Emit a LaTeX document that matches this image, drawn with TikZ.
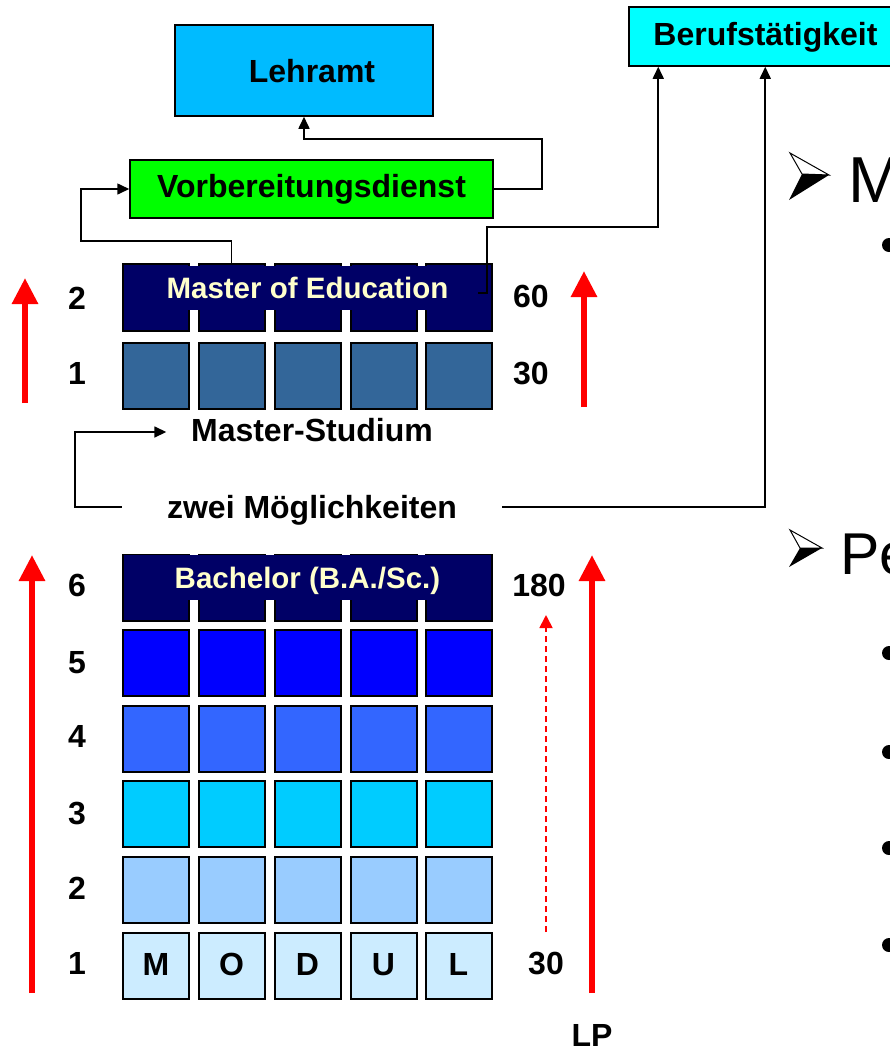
\documentclass[tikz,border=0pt]{standalone}
\usepackage{fontspec}
\setmainfont{Liberation Sans}
\usetikzlibrary{arrows.meta}
\definecolor{lehrcol}{RGB}{0,187,255}
\definecolor{berufcol}{RGB}{0,255,255}
\definecolor{vorbcol}{RGB}{0,255,0}
\definecolor{navy}{RGB}{0,0,102}
\definecolor{mrowone}{RGB}{51,102,153}
\definecolor{bfive}{RGB}{0,0,255}
\definecolor{bfour}{RGB}{51,102,255}
\definecolor{bthree}{RGB}{0,204,255}
\definecolor{btwo}{RGB}{153,204,255}
\definecolor{bone}{RGB}{204,236,255}
\definecolor{bantext}{RGB}{255,255,204}
\begin{document}
\begin{tikzpicture}[x=1pt,y=-1pt,
  txt/.style={font=\fontsize{32}{38}\selectfont\bfseries, inner sep=0pt, text height=23pt, text depth=0pt},
  bantxt/.style={font=\fontsize{29.5}{34}\selectfont\bfseries, text=bantext, inner sep=0pt, text height=21pt, text depth=0pt},
  cell/.style={draw=black, line width=2pt, minimum width=66pt, minimum height=66pt, inner sep=0pt},
  box/.style={draw=black, line width=1.5pt, inner sep=0pt},
  conn/.style={line width=1.6pt},
  arr/.style={conn, -{Triangle[length=12pt,width=11pt]}},
  redarr/.style={draw=red, line width=6pt, -{Triangle[length=26pt,width=25pt]}},
  reddash/.style={draw=red, line width=1.8pt, dash pattern=on 6pt off 4pt, -{Triangle[length=13pt,width=13pt]}},
  bigtxt/.style={anchor=base west, inner sep=0pt}
]
\useasboundingbox (0,0) rectangle (890,1050);

% top boxes
\node[box, txt, fill=lehrcol, minimum width=258pt, minimum height=91pt] (lehr) at (304,70.5) {\hspace*{16pt}Lehramt};
\node[box, txt, fill=berufcol, minimum width=273pt, minimum height=59pt, text depth=5pt] (beruf) at (765.5,36.5) {Berufstätigkeit};
\node[box, txt, fill=vorbcol, minimum width=363pt, minimum height=58pt, text depth=6pt] (vorb) at (311.5,189) {Vorbereitungsdienst};

% master grid
\foreach \c [count=\i] in {156,231.5,307.5,383.5,458.5} {
  \node[cell, fill=navy, minimum height=67pt] (mb\i) at (\c,297.5) {};
  \node[cell, fill=mrowone] (ma\i) at (\c,376) {};
}
\node[fill=navy, minimum width=367pt, minimum height=44pt, bantxt] (mban) at (307.5,288) {Master of Education};

% bachelor grid
\foreach \r/\y/\col in {6/587.5/navy,5/663/bfive,4/739/bfour,3/814/bthree,2/889.5/btwo} {
  \foreach \c [count=\i] in {156,231.5,307.5,383.5,458.5} {
    \node[cell, fill=\col] (b\r c\i) at (\c,\y) {};
  }
}
\foreach \c/\l [count=\i] in {156/M,231.5/O,307.5/D,383.5/U,458.5/L} {
  \node[cell, fill=bone, txt, text depth=4pt] (b1c\i) at (\c,965.5) {\l};
}
\node[fill=navy, minimum width=367pt, minimum height=45pt, bantxt] (bban) at (307.5,577.5) {Bachelor (B.A./Sc.)};

% labels
\node[txt] (lm2) at (77,297.5) {2};
\node[txt] (lm1) at (77,372.5) {1};
\node[txt] (rm2) at (531,296) {60};
\node[txt] (rm1) at (531,372.5) {30};
\node[txt] (lb6) at (77,585) {6};
\node[txt] (lb5) at (77,662) {5};
\node[txt] (lb4) at (77,736) {4};
\node[txt] (lb3) at (77,812.5) {3};
\node[txt] (lb2) at (77,888) {2};
\node[txt] (lb1) at (77,962.5) {1};
\node[txt] (rb6) at (539,585) {180};
\node[txt] (rb1) at (546,962.5) {30};
\node[txt] (lp) at (592,1035) {LP};

\node[txt, minimum width=291pt, text depth=4pt] (ms) at (312,432) {Master-Studium};
\node[txt, minimum width=380pt, text depth=1pt] (zwei) at (312,507) {zwei Möglichkeiten};

% connectors
\draw[arr] (vorb.east) -- ++(48,0) |- ([yshift=-22pt]lehr.south) -- (lehr.south);
\draw[arr] (mb2.north) -- ++(0,-22) -| ([xshift=-48pt]vorb.west) -- (vorb.west);
\coordinate (mt) at (478,293);
\draw[arr] (mt) -- ++(9,0) -- ++(0,-66) -| ([xshift=30pt]beruf.south west);
\draw[arr] (zwei.west) -- ++(-47,0) |- (ms.west);
\draw[arr] (zwei.east) -| ([xshift=137pt]beruf.south west);

% red arrows
\coordinate (ra1s) at (25,403); \coordinate (ra1e) at (25,278);
\coordinate (ra2s) at (584,407); \coordinate (ra2e) at (584,271);
\coordinate (ra3s) at (32,993); \coordinate (ra3e) at (32,555);
\coordinate (ra4s) at (592,993); \coordinate (ra4e) at (592,555);
\coordinate (rds) at (546,932); \coordinate (rde) at (546,615);
\draw[redarr] (ra1s) -- (ra1e);
\draw[redarr] (ra2s) -- (ra2e);
\draw[redarr] (ra3s) -- (ra3e);
\draw[redarr] (ra4s) -- (ra4e);
\draw[reddash] (rds) -- (rde);

% right side text
\draw[line width=1pt, fill=white] (790,153) -- (829,175) -- (802,174) -- cycle;
\fill (802,174) -- (829,175) -- (789,200) -- cycle;
\node[bigtxt, font=\fontsize{65}{70}\selectfont] (tm) at (848,202) {M};
\draw[line width=1pt, fill=white] (790,530) -- (822,548) -- (800,548) -- cycle;
\fill (800,548) -- (822,548) -- (789,567) -- cycle;
\node[bigtxt, font=\fontsize{59}{64}\selectfont] (tp) at (840,574) {Pe};
\foreach \yy in {245,653,752,848,945} {
  \fill (889,\yy) circle[radius=7pt];
}
\end{tikzpicture}
\end{document}
